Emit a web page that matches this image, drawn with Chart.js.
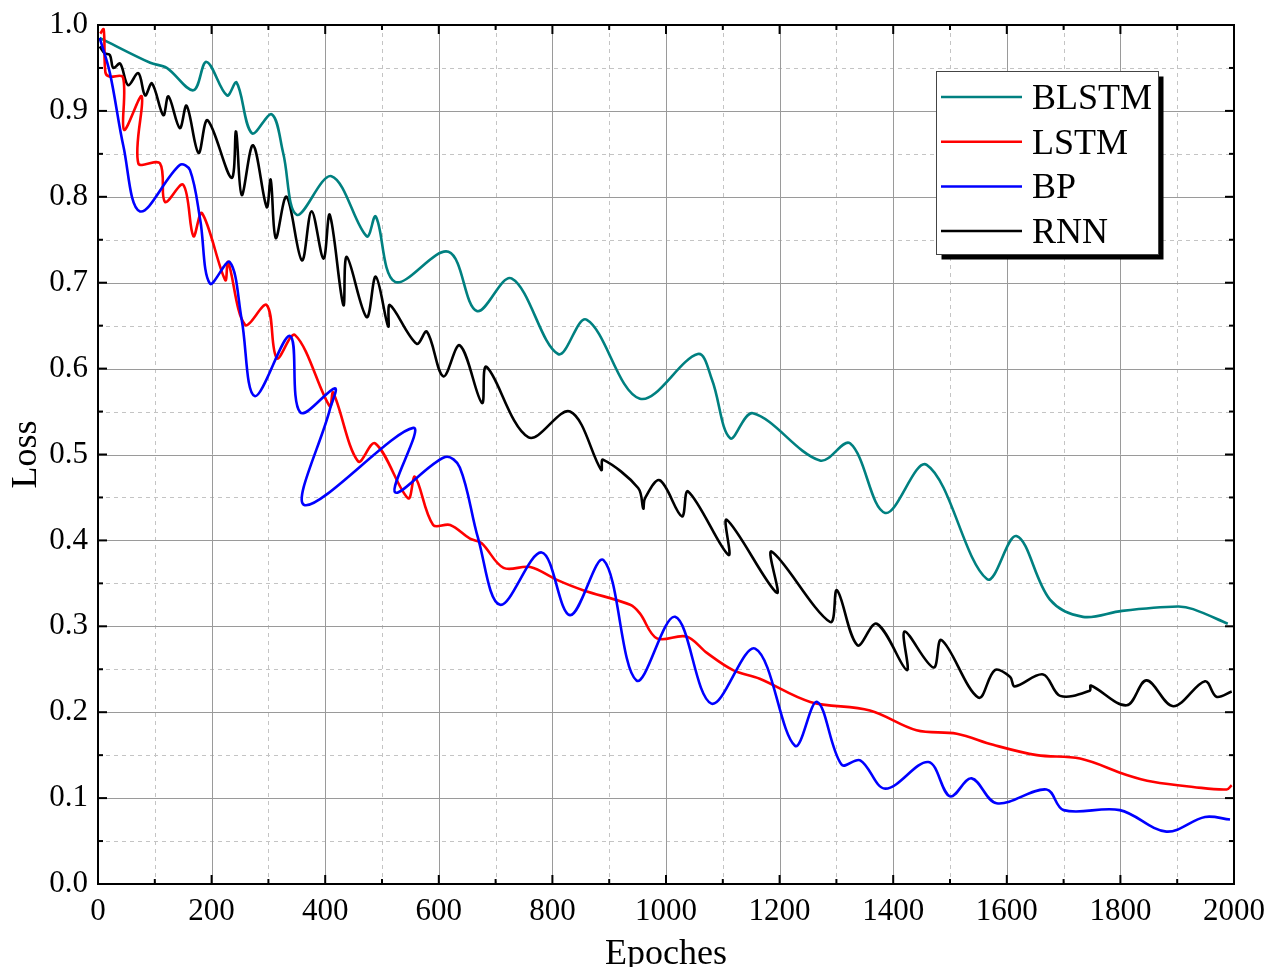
<!DOCTYPE html>
<html><head><meta charset="utf-8">
<script src="https://cdn.jsdelivr.net/npm/chart.js@4.4.1/dist/chart.umd.min.js"></script>
<style>html,body{margin:0;padding:0;background:#fff;}canvas{display:block;}</style>
</head><body>
<canvas id="c" width="1269" height="967"></canvas>
<script>
const seriesNames = ['BLSTM', 'LSTM', 'BP', 'RNN'];
const seriesColors = ['#008080', '#ff0000', '#0000ff', '#000000'];

const blstmEpoch = [3,92,121,168,191,227,244,271,306,326,350,411,473,489,523,617,667,728,810,860,954,1056,1081,1113,1153,1271,1324,1386,1459,1565,1617,1676,1734,1803,1901,1928,1989];
const blstmLoss  = [0.985,0.956,0.950,0.924,0.957,0.918,0.933,0.874,0.896,0.851,0.779,0.824,0.754,0.777,0.701,0.736,0.667,0.705,0.617,0.657,0.565,0.617,0.587,0.519,0.548,0.493,0.513,0.432,0.488,0.355,0.405,0.331,0.311,0.318,0.323,0.320,0.303];

const lstmEpoch = [4,10,13,20,44,46,77,71,109,118,150,168,183,224,229,259,297,315,347,408,414,458,488,546,558,590,620,655,675,714,761,808,854,937,954,984,1036,1072,1118,1165,1254,1359,1441,1512,1576,1653,1729,1811,1857,1928,1987,1996];
const lstmLoss  = [0.99,0.995,0.945,0.940,0.939,0.878,0.917,0.839,0.839,0.794,0.814,0.754,0.781,0.703,0.724,0.651,0.674,0.612,0.639,0.556,0.572,0.492,0.513,0.449,0.474,0.418,0.418,0.402,0.397,0.368,0.369,0.354,0.342,0.325,0.315,0.286,0.288,0.269,0.249,0.239,0.212,0.202,0.179,0.175,0.162,0.150,0.146,0.127,0.119,0.113,0.110,0.115];

const bpEpoch = [3,21,45,74,144,162,180,197,232,253,276,338,356,417,408,364,555,523,611,637,669,708,781,831,890,948,1016,1080,1157,1227,1266,1309,1342,1386,1462,1500,1538,1582,1670,1700,1799,1881,1949,1993];
const bpLoss  = [0.985,0.944,0.858,0.783,0.837,0.831,0.773,0.699,0.724,0.657,0.568,0.638,0.549,0.577,0.552,0.441,0.531,0.456,0.497,0.485,0.403,0.325,0.386,0.313,0.377,0.237,0.311,0.210,0.274,0.161,0.212,0.139,0.144,0.111,0.142,0.102,0.123,0.094,0.110,0.086,0.086,0.061,0.078,0.075];

const rnnEpoch = [3,12,21,27,39,53,71,83,95,115,124,144,156,177,193,235,243,253,273,297,304,313,332,359,376,397,408,432,438,473,489,511,514,561,579,608,637,676,684,758,831,886,889,951,960,963,989,1028,1039,1110,1107,1195,1186,1289,1301,1337,1371,1424,1420,1471,1485,1550,1579,1606,1614,1664,1694,1746,1748,1811,1846,1893,1949,1969,1996];
const rnnLoss  = [0.975,0.967,0.965,0.950,0.955,0.930,0.944,0.918,0.932,0.895,0.917,0.880,0.906,0.851,0.889,0.822,0.876,0.802,0.860,0.788,0.820,0.752,0.800,0.726,0.783,0.728,0.779,0.674,0.730,0.660,0.707,0.649,0.674,0.629,0.643,0.591,0.627,0.560,0.602,0.520,0.550,0.482,0.494,0.461,0.437,0.449,0.470,0.428,0.457,0.383,0.424,0.339,0.387,0.305,0.342,0.278,0.303,0.249,0.294,0.252,0.284,0.217,0.249,0.241,0.230,0.244,0.219,0.225,0.231,0.208,0.237,0.207,0.236,0.218,0.224];

const xTickLabels = ['0','200','400','600','800','1000','1200','1400','1600','1800','2000'];
const yTickLabels = ['0.0','0.1','0.2','0.3','0.4','0.5','0.6','0.7','0.8','0.9','1.0'];

const FONT = "'Liberation Serif','Times New Roman',serif";
const pairs = (xs, ys) => xs.map((x, i) => ({x: x, y: ys[i]}));
const allSeries = [[blstmEpoch, blstmLoss], [lstmEpoch, lstmLoss], [bpEpoch, bpLoss], [rnnEpoch, rnnLoss]];
const drawOrder = [2, 1, 0, 3];

const frameGrid = {
  id: 'frameGrid',
  beforeDatasetsDraw(chart) {
    const {ctx, chartArea: a, scales: {x, y}} = chart;
    const xs = xTickLabels.map(Number), ys = yTickLabels.map(Number);
    ctx.save();
    ctx.lineWidth = 1;
    ctx.strokeStyle = '#c4c4c4';
    ctx.setLineDash([4, 4]);
    for (let i = 0; i < xs.length - 1; i++) {
      const p = Math.round(x.getPixelForValue((xs[i] + xs[i + 1]) / 2)) + 0.5;
      ctx.beginPath(); ctx.moveTo(p, a.top); ctx.lineTo(p, a.bottom); ctx.stroke();
    }
    for (let i = 0; i < ys.length - 1; i++) {
      const p = Math.round(y.getPixelForValue((ys[i] + ys[i + 1]) / 2)) + 0.5;
      ctx.beginPath(); ctx.moveTo(a.left, p); ctx.lineTo(a.right, p); ctx.stroke();
    }
    ctx.setLineDash([]);
    ctx.strokeStyle = '#9a9a9a';
    for (let i = 1; i < xs.length - 1; i++) {
      const p = Math.round(x.getPixelForValue(xs[i])) + 0.5;
      ctx.beginPath(); ctx.moveTo(p, a.top); ctx.lineTo(p, a.bottom); ctx.stroke();
    }
    for (let i = 1; i < ys.length - 1; i++) {
      const p = Math.round(y.getPixelForValue(ys[i])) + 0.5;
      ctx.beginPath(); ctx.moveTo(a.left, p); ctx.lineTo(a.right, p); ctx.stroke();
    }
    ctx.restore();
  },
  afterDatasetsDraw(chart) {
    const {ctx, chartArea: a, scales: {x, y}} = chart;
    const xs = xTickLabels.map(Number), ys = yTickLabels.map(Number);
    ctx.save();
    ctx.strokeStyle = '#000';
    ctx.lineWidth = 2;
    const tick = (x1, y1, x2, y2) => { ctx.beginPath(); ctx.moveTo(x1, y1); ctx.lineTo(x2, y2); ctx.stroke(); };
    xs.forEach((v, i) => {
      const p = x.getPixelForValue(v);
      tick(p, a.bottom, p, a.bottom - 9); tick(p, a.top, p, a.top + 9);
      if (i < xs.length - 1) {
        const m = x.getPixelForValue((v + xs[i + 1]) / 2);
        tick(m, a.bottom, m, a.bottom - 5); tick(m, a.top, m, a.top + 5);
      }
    });
    ys.forEach((v, i) => {
      const p = y.getPixelForValue(v);
      tick(a.left, p, a.left + 9, p); tick(a.right, p, a.right - 9, p);
      if (i < ys.length - 1) {
        const m = y.getPixelForValue((v + ys[i + 1]) / 2);
        tick(a.left, m, a.left + 5, m); tick(a.right, m, a.right - 5, m);
      }
    });
    ctx.lineWidth = 2;
    ctx.strokeRect(a.left, a.top, a.right - a.left, a.bottom - a.top);
    ctx.restore();
  },
  afterDraw(chart) {
    const ctx = chart.ctx;
    const bx = 936.5, by = 71.5, bw = 222, bh = 183;
    ctx.save();
    ctx.fillStyle = '#000';
    ctx.fillRect(bx + 5, by + 5, bw, bh);
    ctx.fillStyle = '#fff';
    ctx.fillRect(bx, by, bw, bh);
    ctx.strokeStyle = '#444';
    ctx.lineWidth = 1;
    ctx.strokeRect(bx, by, bw, bh);
    ctx.font = '36px ' + FONT;
    ctx.textBaseline = 'alphabetic';
    ctx.textAlign = 'left';
    chart.data.datasets.forEach((ds, i) => {
      const ly = 97 + i * 44.7;
      ctx.strokeStyle = ds.borderColor;
      ctx.lineWidth = 2.5;
      ctx.beginPath(); ctx.moveTo(941, ly); ctx.lineTo(1022, ly); ctx.stroke();
      ctx.fillStyle = '#000';
      ctx.fillText(ds.label, 1032, ly + 12);
    });
    ctx.restore();
  }
};

new Chart(document.getElementById('c'), {
  type: 'scatter',
  data: {
    datasets: seriesNames.map((name, i) => ({
      label: name,
      data: pairs(allSeries[i][0], allSeries[i][1]),
      showLine: true,
      borderColor: seriesColors[i],
      backgroundColor: seriesColors[i],
      borderWidth: 2.6,
      pointRadius: 0,
      tension: 0.35,
      fill: false,
      order: drawOrder[i]
    }))
  },
  options: {
    responsive: false,
    animation: false,
    layout: {padding: {top: 25, right: 35, left: 0, bottom: 0}},
    plugins: {legend: {display: false}, tooltip: {enabled: false}},
    scales: {
      x: {
        type: 'linear', min: 0, max: 2000,
        ticks: {stepSize: 200, autoSkip: false, maxRotation: 0, padding: 9,
          callback: (v, i) => xTickLabels[i], color: '#000', font: {family: FONT, size: 31}},
        grid: {display: false, drawTicks: false},
        border: {display: false},
        title: {display: true, text: 'Epoches', color: '#000', padding: {top: 0, bottom: 0},
          font: {family: FONT, size: 36, lineHeight: 0.7}},
        afterFit(s) { s.height = 83; s.paddingLeft = 0; s.paddingRight = 0; }
      },
      y: {
        type: 'linear', min: 0, max: 1,
        ticks: {stepSize: 0.1, padding: 10,
          callback: (v, i) => yTickLabels[i], color: '#000', font: {family: FONT, size: 31}},
        grid: {display: false, drawTicks: false},
        border: {display: false},
        title: {display: true, text: 'Loss', color: '#000', padding: {top: 9, bottom: 0},
          font: {family: FONT, size: 36, lineHeight: 1}},
        afterFit(s) { s.width = 98; s.paddingTop = 0; s.paddingBottom = 0; }
      }
    }
  },
  plugins: [frameGrid]
});
</script>
</body></html>
